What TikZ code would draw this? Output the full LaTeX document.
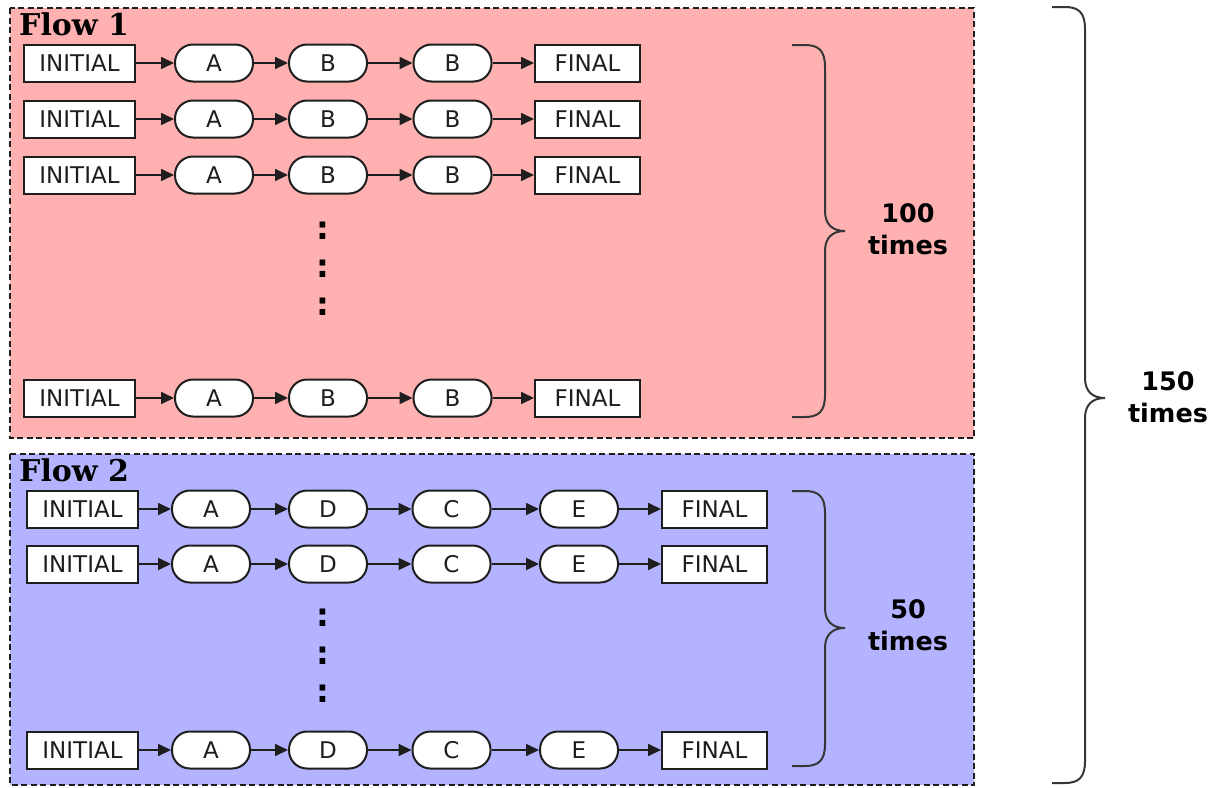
\documentclass[tikz,border=0pt]{standalone}
\usepackage{fontspec}
\setmainfont{DejaVu Sans}
\newfontfamily\titlefont{DejaVu Serif}
\usetikzlibrary{arrows.meta}
\definecolor{flowpink}{RGB}{255,176,176}
\definecolor{flowblue}{RGB}{179,179,255}
\definecolor{edgegray}{RGB}{30,30,30}
\definecolor{textgray}{RGB}{30,30,30}
\definecolor{bracegray}{RGB}{55,55,55}
\newcommand\curlyright[4]{%
  \draw[bracesty] (#1,#2) -- ({#1+13},#2)
    .. controls ({#1+27},#2) and ({#1+33},{#2+6}) .. ({#1+33},{#2+22})
    -- ({#1+33},{#3-20})
    .. controls ({#1+33},{#3-7}) and ({#1+40},#3) .. ({#1+53},#3)
    .. controls ({#1+40},#3) and ({#1+33},{#3+7}) .. ({#1+33},{#3+20})
    -- ({#1+33},{#4-22})
    .. controls ({#1+33},{#4-6}) and ({#1+27},#4) .. ({#1+13},#4)
    -- (#1,#4);}
\begin{document}
\begin{tikzpicture}[x=1pt,y=-1pt,
  box/.style={draw=edgegray, line width=2pt, fill=white, minimum height=37pt,
    inner sep=0pt, text=textgray, font=\fontsize{23}{27}\selectfont},
  sq/.style={box},
  sqi/.style={sq, minimum width=111pt},
  sqf/.style={sq, minimum width=105pt},
  rnd/.style={box, rounded corners=18pt, minimum width=78pt},
  arr/.style={draw=edgegray, line width=1.8pt, -{Triangle[length=13pt,width=12pt]}},
  panel/.style={draw=edgegray, line width=2pt, dash pattern=on 6pt off 3.5pt},
  title/.style={anchor=base west, inner sep=0pt, font=\titlefont\bfseries\fontsize{30}{32}\selectfont, text=black},
  vdots/.style={inner sep=0pt, font=\bfseries\fontsize{32}{34}\selectfont, text=black},
  lbl/.style={align=center, inner sep=0pt, font=\bfseries\fontsize{25.5}{32}\selectfont, text=black},
  bracesty/.style={draw=bracegray, line width=2pt}
]
\useasboundingbox (0,0) rectangle (1217,787);
\fill[white] (0,0) rectangle (1217,787);

% panels
\draw[panel, fill=flowpink] (10,8) rectangle (974,438);
\draw[panel, fill=flowblue] (10,454) rectangle (974,785);

\node[title] (t1) at (19,35) {Flow 1};
\node[title] (t2) at (19,481) {Flow 2};

% Flow 1 rows
\foreach \r/\y in {1/63,2/119,3/175,4/398}{
  \node[sqi] (fa\r) at (79.5,\y) {INITIAL};
  \node[rnd] (fb\r) at (214,\y) {A};
  \node[rnd] (fc\r) at (328,\y) {B};
  \node[rnd] (fd\r) at (452.5,\y) {B};
  \node[sqf] (fe\r) at (587.5,\y) {FINAL};
  \draw[arr] (fa\r) -- (fb\r);
  \draw[arr] (fb\r) -- (fc\r);
  \draw[arr] (fc\r) -- (fd\r);
  \draw[arr] (fd\r) -- (fe\r);
}

% Flow 2 rows
\foreach \r/\y in {1/509,2/564,3/750}{
  \node[sqi] (ga\r) at (82.5,\y) {INITIAL};
  \node[rnd] (gb\r) at (211,\y) {A};
  \node[rnd] (gc\r) at (328,\y) {D};
  \node[rnd] (gd\r) at (451.5,\y) {C};
  \node[rnd] (ge\r) at (579,\y) {E};
  \node[sqf] (gf\r) at (714.5,\y) {FINAL};
  \draw[arr] (ga\r) -- (gb\r);
  \draw[arr] (gb\r) -- (gc\r);
  \draw[arr] (gc\r) -- (gd\r);
  \draw[arr] (gd\r) -- (ge\r);
  \draw[arr] (ge\r) -- (gf\r);
}

% vertical dots
\node[vdots] (v11) at (323,230.5) {:};
\node[vdots] (v12) at (323,268.5) {:};
\node[vdots] (v13) at (323,306.5) {:};
\node[vdots] (v21) at (323,617.5) {:};
\node[vdots] (v22) at (323,655.5) {:};
\node[vdots] (v23) at (323,693.5) {:};

% braces
\curlyright{792}{45}{231}{417}
\curlyright{792}{491}{628}{766}
\curlyright{1052}{7}{398}{783}

% labels
\node[lbl] (l100) at (908,229) {100\\times};
\node[lbl] (l50) at (908,625) {50\\times};
\node[lbl] (l150) at (1168,397) {150\\times};
\end{tikzpicture}
\end{document}
